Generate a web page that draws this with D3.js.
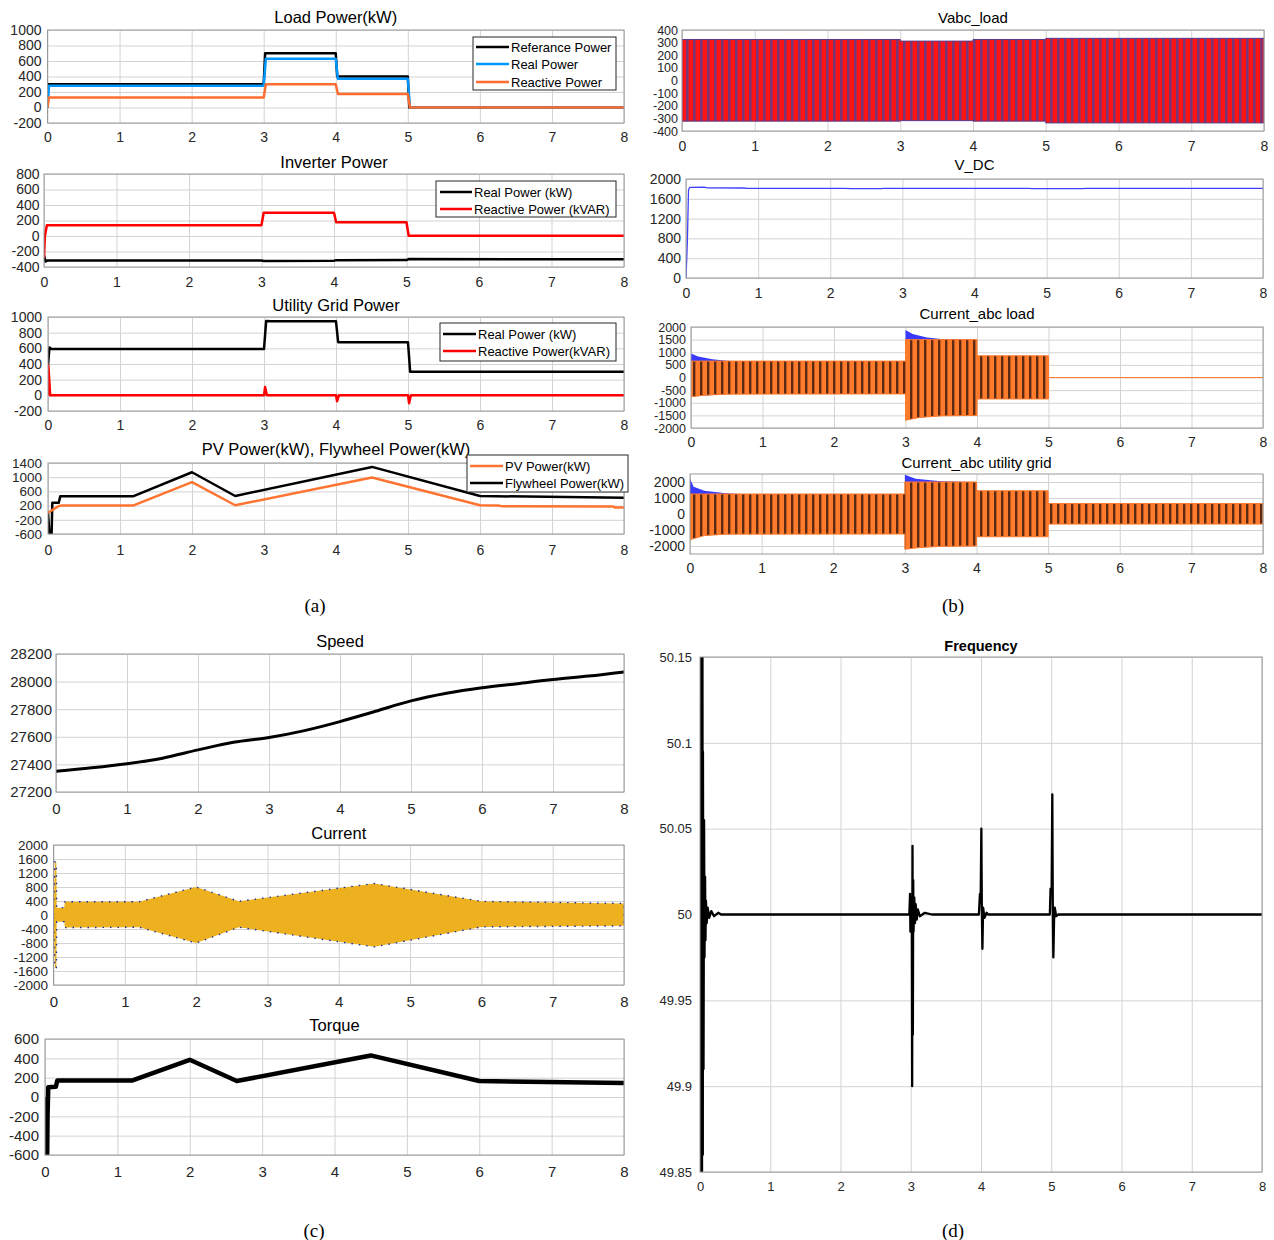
<!DOCTYPE html>
<html><head><meta charset="utf-8">
<script src="https://cdn.jsdelivr.net/npm/d3@7"></script>
<style>
body{margin:0;background:#fff;}
svg{display:block;}
</style></head><body>
<svg id="c" width="1274" height="1240"></svg>
<script>
// ================= DATA =================
const xTicks = [0,1,2,3,4,5,6,7,8];

// (a) Load Power
const loadRef   = [[0,0],[0.01,300],[3.0,300],[3.02,700],[4.0,700],[4.02,400],[5.0,400],[5.02,0],[8,0]];
const loadReal  = [[0,0],[0.02,280],[3.0,280],[3.03,630],[4.0,630],[4.03,370],[5.0,370],[5.03,0],[8,0]];
const loadReact = [[0,0],[0.02,130],[3.0,130],[3.03,300],[4.0,300],[4.03,175],[5.0,175],[5.03,0],[8,0]];
// Inverter Power
const invReal  = [[0,-250],[0.02,-330],[0.05,-315],[3.0,-315],[3.03,-322],[4.0,-318],[4.03,-312],[5.0,-310],[5.03,-298],[8,-300]];
const invReact = [[0,-280],[0.012,0],[0.04,140],[3.0,140],[3.03,300],[4.0,300],[4.03,178],[5.0,178],[5.03,3],[8,3]];
// Utility Grid Power
const gridReal  = [[0,380],[0.02,610],[0.05,590],[3.0,590],[3.03,950],[3.1,945],[4.0,945],[4.03,678],[5.0,678],[5.03,300],[8,300]];
const gridReact = [[0,0],[0.005,380],[0.03,0],[3.0,0],[3.015,105],[3.04,0],[4.0,0],[4.015,-75],[4.04,0],[5.0,0],[5.015,-100],[5.04,0],[8,0]];
// PV / Flywheel
const pvPower  = [[0,0],[0.15,190],[0.2,200],[1.18,200],[2.0,860],[2.6,210],[4.5,990],[6.0,210],[6.25,200],[6.3,185],[7.85,175],[7.87,150],[8,150]];
const flyPower = [[0,0],[0.02,-600],[0.05,-600],[0.06,280],[0.15,280],[0.17,460],[1.18,460],[2.0,1140],[2.6,470],[4.5,1290],[6.0,470],[8,420]];

// (b) envelopes [t, upper, lower]
const vabcEnv = [[0,325,-322],[3,325,-322],[3,312,-318],[4,312,-318],[4,325,-322],[5,325,-322],[5,334,-336],[8,334,-336]];
const vdc = [[0,0],[0.01,380],[0.02,800],[0.035,1780],[0.05,1830],[0.25,1835],[0.3,1822],[0.8,1818],[0.85,1812],[2.2,1812],[2.3,1805],[2.7,1806],[2.75,1812],[4.75,1812],[4.8,1806],[5.5,1806],[5.55,1812],[8,1812]];
const loadCurBlue = [[0,950,-760],[0.1,830,-730],[0.3,720,-690],[0.5,665,-660],[0.6,650,-650],[3,650,-650],[3,1880,-1690],[3.1,1720,-1620],[3.3,1580,-1550],[3.5,1520,-1510],[4,1500,-1500]];
const loadCurEnv  = [[0,650,-760],[0.2,650,-700],[0.5,650,-660],[3,650,-650],[3,1500,-1690],[3.2,1500,-1580],[3.5,1500,-1520],[4,1500,-1500],[4,860,-850],[5,860,-850],[5,0,0],[8,0,0]];
const gridCurBlue = [[0,2200,-1600],[0.05,1700,-1500],[0.2,1450,-1350],[0.5,1300,-1260],[0.7,1250,-1250],[3,1250,-1250],[3,2450,-2200],[3.15,2200,-2100],[3.5,2050,-2020],[4,2000,-2000]];
const gridCurEnv  = [[0,1250,-1600],[0.2,1250,-1350],[0.5,1250,-1260],[3,1250,-1250],[3,2000,-2200],[3.2,2000,-2100],[3.5,2000,-2020],[4,2000,-2000],[4,1450,-1420],[5,1450,-1420],[5,650,-630],[8,650,-630]];

// (c)
const speed = [[0,27350],[0.5,27375],[1,27405],[1.5,27445],[2,27505],[2.5,27560],[3,27595],[3.5,27645],[4,27710],[4.5,27785],[5,27860],[5.5,27915],[6,27955],[6.5,27985],[7,28015],[7.5,28040],[8,28070]];
const motorCurEnv = [[0,0,0],[0.02,1520,-1520],[0.04,1500,-1500],[0.045,210,-190],[0.15,210,-190],[0.16,380,-360],[1.2,380,-350],[2.0,800,-800],[2.6,390,-350],[4.5,900,-910],[6.0,390,-340],[8,330,-310]];
const torque = [[0,0],[0.01,-100],[0.02,-300],[0.03,-600],[0.035,-200],[0.045,100],[0.15,105],[0.17,170],[1.2,170],[2.0,385],[2.65,165],[4.5,430],[6.0,165],[8,145]];

// (d) Frequency
const freq = [[0,50],[0.004,49.8],[0.01,50.2],[0.016,49.8],[0.022,50.2],[0.028,49.8],[0.034,50.2],[0.04,49.86],[0.042,50.095],[0.05,49.91],[0.058,50.055],[0.064,49.975],[0.072,50.022],[0.078,49.985],[0.085,50.008],[0.095,49.995],[0.11,50.004],[0.13,49.998],[0.16,50.002],[0.2,49.999],[0.26,50.001],[0.3,50],
  [2.98,50],[2.99,50.012],[2.995,49.99],[3.005,50.01],[3.01,49.99],[3.015,50.005],[3.02,49.9],[3.025,50.04],[3.03,49.93],[3.035,50.02],[3.04,49.99],[3.05,50.01],[3.06,49.995],[3.07,50.006],[3.085,49.997],[3.1,50.003],[3.13,49.999],[3.2,50.001],[3.3,50],
  [3.97,50],[3.985,50.012],[3.995,50.008],[4.005,50.05],[4.012,50.003],[4.02,49.98],[4.03,50.004],[4.05,49.998],[4.08,50.001],[4.1,50],
  [4.98,50],[4.99,50.015],[5.005,50.012],[5.015,50.07],[5.022,50.004],[5.03,49.975],[5.04,49.997],[5.05,50.004],[5.07,49.999],[5.1,50],[8,50]];

// ================= DRAWING =================
const FONT = '"Liberation Sans", Arial, Helvetica, sans-serif';
const GRID = '#d3d3d3', FRAME = '#9a9a9a', TXT = '#262626';
const svg = d3.select('#c').attr('font-family', FONT);
const defs = svg.append('defs');
const fmt = d => String(d);

function stripes(id, base, stripe, period, w){
  const p = defs.append('pattern').attr('id',id).attr('patternUnits','userSpaceOnUse')
    .attr('width',period).attr('height',10);
  p.append('rect').attr('width',period).attr('height',10).attr('fill',base);
  p.append('rect').attr('x',0).attr('width',w).attr('height',10).attr('fill',stripe);
}
stripes('pv', '#ff1414', '#7a3478', 7, 2.6);
stripes('pi', '#ff7a2a', '#5c2a12', 7, 2.4);

function makePanel(o){
  const x = d3.scaleLinear().domain([0,8]).range([o.x0,o.x1]);
  const y = d3.scaleLinear().domain(o.yd).range([o.y1,o.y0]);
  const w = o.x1-o.x0, h = o.y1-o.y0;
  const g = svg.append('g');
  const gx = g.append('g').attr('transform',`translate(0,${o.y1})`)
    .call(d3.axisBottom(x).tickValues(xTicks).tickSize(-h).tickPadding(o.xpad).tickFormat(fmt));
  const gy = g.append('g').attr('transform',`translate(${o.x0},0)`)
    .call(d3.axisLeft(y).tickValues(o.yt).tickSize(-w).tickPadding(o.ypad).tickFormat(fmt));
  [[gx,o.fs],[gy,o.yfs||o.fs]].forEach(([a,fs])=>{
    a.select('.domain').remove();
    a.selectAll('.tick line').attr('stroke',GRID).attr('stroke-width',1);
    a.selectAll('.tick text').attr('font-size',fs).attr('fill',TXT).attr('font-family',FONT);
  });
  const cid = 'clip-'+o.id;
  defs.append('clipPath').attr('id',cid).append('rect')
    .attr('x',o.x0).attr('y',o.y0).attr('width',w).attr('height',h);
  const plot = g.append('g').attr('clip-path',`url(#${cid})`);
  g.append('text').attr('x',(o.x0+o.x1)/2).attr('y',o.ty).attr('dy','0.35em')
    .attr('text-anchor','middle').attr('font-size',o.tfs).attr('fill','#000')
    .attr('font-weight',o.bold?'bold':'normal').text(o.title);
  return {x,y,g,plot,o,
    frame(){ g.append('rect').attr('x',o.x0).attr('y',o.y0).attr('width',w).attr('height',h)
      .attr('fill','none').attr('stroke',FRAME).attr('stroke-width',1); }};
}
function drawLine(p, data, color, width, curve){
  const ln = d3.line().x(d=>p.x(d[0])).y(d=>p.y(d[1]));
  if (curve) ln.curve(curve);
  p.plot.append('path').datum(data).attr('fill','none').attr('stroke',color)
    .attr('stroke-width',width).attr('stroke-linejoin','round').attr('d', ln);
}
function drawBand(p, data, fill, stroke, sw, dash){
  const ar = d3.area().x(d=>p.x(d[0])).y0(d=>p.y(d[2])).y1(d=>p.y(d[1]));
  const path = p.plot.append('path').datum(data).attr('fill',fill).attr('d', ar);
  if (stroke){ path.attr('stroke',stroke).attr('stroke-width',sw); if(dash) path.attr('stroke-dasharray',dash); }
}
function legend(p, box, lx0, lx1, tx, items){
  const g = p.g.append('g');
  g.append('rect').attr('x',box[0]).attr('y',box[1]).attr('width',box[2]-box[0]).attr('height',box[3]-box[1])
    .attr('fill','#fff').attr('stroke','#262626').attr('stroke-width',1);
  items.forEach(it=>{
    g.append('line').attr('x1',lx0).attr('x2',lx1).attr('y1',it.y).attr('y2',it.y)
      .attr('stroke',it.color).attr('stroke-width',2.5);
    g.append('text').attr('x',tx).attr('y',it.y).attr('dy','0.35em').attr('font-size',13)
      .attr('fill','#000').text(it.label);
  });
}

const BLUE = '#0096ff', ORANGE = '#ff6e30', RED = '#ff0000';

// ---- (a) ----
const a1 = makePanel({id:'a1',x0:47.5,x1:624,y0:30,y1:123,yd:[-200,1000],yt:[-200,0,200,400,600,800,1000],fs:14,xpad:9,ypad:6,title:'Load Power(kW)',ty:17,tfs:16.5});
drawLine(a1, loadRef, '#000', 2.5);
drawLine(a1, loadReal, BLUE, 2.5);
drawLine(a1, loadReact, ORANGE, 2.5);
a1.frame();
legend(a1, [473,37,616,90], 476, 509, 511, [
  {label:'Referance Power', color:'#000', y:47},
  {label:'Real Power', color:BLUE, y:64},
  {label:'Reactive Power', color:ORANGE, y:82}]);

const a2 = makePanel({id:'a2',x0:44,x1:624,y0:174,y1:267,yd:[-400,800],yt:[-400,-200,0,200,400,600,800],fs:14,xpad:10,ypad:4.5,title:'Inverter Power',ty:162,tfs:16.5});
drawLine(a2, invReal, '#000', 2.5);
drawLine(a2, invReact, RED, 2.5);
a2.frame();
legend(a2, [436,181,616,217], 440, 472, 474, [
  {label:'Real Power (kW)', color:'#000', y:192},
  {label:'Reactive Power (kVAR)', color:RED, y:209}]);

const a3 = makePanel({id:'a3',x0:48,x1:624,y0:317,y1:411,yd:[-200,1000],yt:[-200,0,200,400,600,800,1000],fs:14,xpad:9,ypad:6,title:'Utility Grid Power',ty:305,tfs:16.5});
drawLine(a3, gridReal, '#000', 2.5);
drawLine(a3, gridReact, RED, 2.5);
a3.frame();
legend(a3, [440,323,616,361], 443, 476, 478, [
  {label:'Real Power (kW)', color:'#000', y:334},
  {label:'Reactive Power(kVAR)', color:RED, y:351}]);

const a4 = makePanel({id:'a4',x0:48,x1:624,y0:463,y1:534,yd:[-600,1400],yt:[-600,-200,200,600,1000,1400],fs:14,yfs:13.5,xpad:11,ypad:6,title:'PV Power(kW), Flywheel Power(kW)',ty:449,tfs:16.5});
drawLine(a4, flyPower, '#000', 2.5);
drawLine(a4, pvPower, '#ff7430', 2.5);
a4.frame();
legend(a4, [467,455,628,492], 470, 503, 505, [
  {label:'PV Power(kW)', color:'#ff7430', y:466},
  {label:'Flywheel Power(kW)', color:'#000', y:483}]);

// ---- (b) ----
const b1 = makePanel({id:'b1',x0:682,x1:1264,y0:30,y1:131,yd:[-400,400],yt:[-400,-300,-200,-100,0,100,200,300,400],fs:14,yfs:12.5,xpad:10,ypad:4,title:'Vabc_load',ty:18,tfs:15});
drawBand(b1, vabcEnv, 'url(#pv)', '#5a3a8a', 1);
b1.frame();

const b2 = makePanel({id:'b2',x0:686,x1:1263,y0:179,y1:278,yd:[0,2000],yt:[0,400,800,1200,1600,2000],fs:14,xpad:10,ypad:5,title:'V_DC',ty:165,tfs:15});
drawLine(b2, vdc, '#4040ff', 1.3);
b2.frame();

const b3 = makePanel({id:'b3',x0:691,x1:1263,y0:327,y1:428,yd:[-2000,2000],yt:[-2000,-1500,-1000,-500,0,500,1000,1500,2000],fs:14,yfs:12.5,xpad:9,ypad:5,title:'Current_abc load',ty:314,tfs:15});
drawBand(b3, loadCurBlue, '#3a3aff');
drawBand(b3, loadCurEnv, 'url(#pi)', '#ff7a2a', 1);
b3.frame();

const b4 = makePanel({id:'b4',x0:690,x1:1263,y0:474,y1:554,yd:[-2500,2500],yt:[-2000,-1000,0,1000,2000],fs:14,xpad:9,ypad:5,title:'Current_abc utility grid',ty:463,tfs:15});
drawBand(b4, gridCurBlue, '#3a3aff');
drawBand(b4, gridCurEnv, 'url(#pi)', '#ff7a2a', 1);
b4.frame();

// ---- (c) ----
const c1 = makePanel({id:'c1',x0:56,x1:624,y0:654,y1:792,yd:[27200,28200],yt:[27200,27400,27600,27800,28000,28200],fs:15,xpad:11.5,ypad:4,title:'Speed',ty:641,tfs:16.5});
drawLine(c1, speed, '#000', 3, d3.curveMonotoneX);
c1.frame();

const c2 = makePanel({id:'c2',x0:53.5,x1:624,y0:845,y1:985,yd:[-2000,2000],yt:[-2000,-1600,-1200,-800,-400,0,400,800,1200,1600,2000],fs:15,yfs:13.5,xpad:11.5,ypad:5.5,title:'Current',ty:833,tfs:16.5});
drawBand(c2, motorCurEnv, '#edb120', '#1f2f9a', 1.4, '1.5 6');
c2.frame();

const c3 = makePanel({id:'c3',x0:45,x1:624,y0:1039,y1:1155,yd:[-600,600],yt:[-600,-400,-200,0,200,400,600],fs:15,xpad:11.5,ypad:6,title:'Torque',ty:1025,tfs:16.5});
drawLine(c3, torque, '#000', 4.5);
c3.frame();

// ---- (d) ----
const d1 = makePanel({id:'d1',x0:700,x1:1262,y0:657,y1:1172,yd:[49.85,50.15],yt:[49.85,49.9,49.95,50,50.05,50.1,50.15],fs:13,xpad:10,ypad:8,title:'Frequency',ty:646,tfs:14.5,bold:true});
drawLine(d1, freq, '#000', 2.3);
d1.frame();

// sub labels
[['(a)',315,605],['(b)',953,605],['(c)',314,1230],['(d)',953,1230]].forEach(s=>{
  svg.append('text').attr('x',s[1]).attr('y',s[2]).attr('dy','0.35em').attr('text-anchor','middle')
    .attr('font-family','"Liberation Serif", "Times New Roman", serif').attr('font-size',19).attr('fill','#000').text(s[0]);
});
</script>
</body></html>
